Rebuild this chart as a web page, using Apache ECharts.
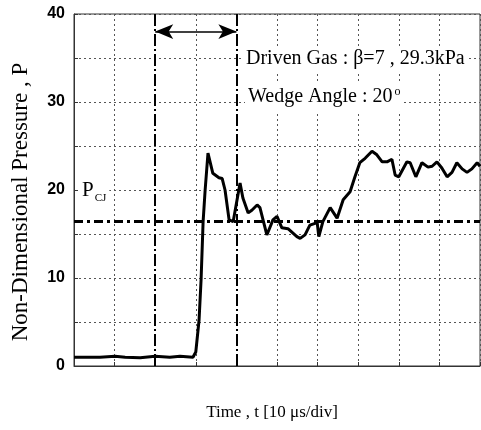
<!DOCTYPE html>
<html>
<head>
<meta charset="utf-8">
<script src="https://cdn.jsdelivr.net/npm/echarts@6/dist/echarts.min.js"></script>
<style>
  html, body { margin: 0; padding: 0; background: #fff; }
  #main { width: 481px; height: 430px; }
</style>
</head>
<body>
<div id="main"></div>
<script>
// time in divisions (10 us/div) and non-dimensional pressure
var timeDiv = [0, 0.64, 1.01, 1.26, 1.63, 2.0, 2.36, 2.61, 2.93, 3.0, 3.08, 3.13, 3.18, 3.23, 3.30,
  3.42, 3.57, 3.65, 3.72, 3.82, 3.92, 4.09, 4.16, 4.29, 4.38, 4.51, 4.58, 4.75, 4.83, 4.90,
  5.00, 5.12, 5.27, 5.49, 5.57, 5.69, 5.81, 5.99, 6.03, 6.13, 6.31, 6.48, 6.63, 6.80, 6.92,
  7.04, 7.17, 7.34, 7.46, 7.59, 7.71, 7.83, 7.91, 8.00, 8.20, 8.28, 8.42, 8.57, 8.72, 8.82,
  8.94, 9.06, 9.19, 9.31, 9.43, 9.56, 9.68, 9.80, 9.93, 10.0];
var pressure = [1.0, 1.0, 1.1, 1.0, 0.95, 1.1, 1.0, 1.1, 1.0, 1.6, 5.2, 9.8, 16.4, 20.0, 24.2,
  21.9, 21.4, 21.3, 20.0, 16.6, 16.4, 20.8, 19.1, 17.4, 17.7, 18.3, 18.0, 14.9, 15.8, 16.6,
  17.0, 15.7, 15.6, 14.7, 14.5, 14.9, 16.0, 16.3, 14.7, 16.4, 18.0, 16.8, 18.9, 19.8, 21.5,
  23.1, 23.6, 24.4, 24.0, 23.2, 23.2, 23.5, 21.7, 21.5, 23.2, 23.1, 21.5, 23.1, 22.6, 22.7,
  23.2, 22.5, 21.5, 22.0, 23.1, 22.4, 22.0, 22.4, 23.1, 22.7];
var yTicks = [0, 10, 20, 30, 40];
var pCJ = 16.4;
var windowStart = 2, windowEnd = 4, arrowLevel = 38;

var chart = echarts.init(document.getElementById('main'), null, { renderer: 'canvas' });

var serif = '"Liberation Serif", "DejaVu Serif", serif';
var pts = timeDiv.map(function (t, i) { return [t, pressure[i]]; });

var option = {
  backgroundColor: '#fff',
  animation: false,
  grid: {
    left: 74, right: 1, top: 14, bottom: 64,
    outerBoundsMode: 'none',
    show: true, borderColor: '#333', borderWidth: 1
  },
  xAxis: {
    type: 'value', min: 0, max: 10, interval: 1,
    name: 'Time , t [10 \u03bcs/div]',
    nameLocation: 'middle', nameGap: 38,
    nameTextStyle: { fontFamily: serif, fontSize: 17, color: '#000', padding: [0, 10, 0, 0] },
    axisLine: { show: true, lineStyle: { color: '#333', width: 1 } },
    axisTick: { show: true, inside: true, length: 4, lineStyle: { color: '#333' } },
    axisLabel: { show: false },
    splitLine: { show: true, lineStyle: { color: '#555', type: [2, 3], width: 1 } }
  },
  yAxis: {
    type: 'value', min: 0, max: 40, interval: 5,
    name: 'Non-Dimensional Pressure , P',
    nameLocation: 'middle', nameGap: 42,
    nameTextStyle: { fontFamily: serif, fontSize: 23, color: '#000', padding: [0, 24, 0, 0] },
    axisLine: { show: true, lineStyle: { color: '#333', width: 1 } },
    axisTick: { show: true, inside: true, length: 4, lineStyle: { color: '#333' } },
    axisLabel: {
      margin: 9,
      fontFamily: '"Liberation Sans", Arial, sans-serif', fontWeight: 'bold', fontSize: 16, color: '#000',
      formatter: function (v) { return yTicks.indexOf(v) >= 0 ? String(v) : ''; }
    },
    splitLine: { show: true, lineStyle: { color: '#555', type: [2, 3], width: 1 } }
  },
  graphic: [
    {
      type: 'text', left: 243, top: 46, z: 10,
      style: {
        text: 'Driven Gas : \u03b2=7 , 29.3kPa',
        font: '20px ' + serif, fill: '#000',
        backgroundColor: '#fff', padding: [3, 3]
      }
    },
    {
      type: 'text', left: 245, top: 83, z: 10,
      style: {
        text: '{t|Wedge Angle : 20}{s|o}',
        rich: {
          t: { font: '20px ' + serif, fill: '#000' },
          s: { font: '12px ' + serif, fill: '#000', verticalAlign: 'top', padding: [0, 0, 10, 2] }
        },
        backgroundColor: '#fff', padding: [3, 3]
      }
    },
    {
      type: 'text', left: 78, top: 176, z: 10,
      style: {
        text: '{p|P}{s|CJ}',
        rich: {
          p: { font: '21px ' + serif, fill: '#000' },
          s: { font: '11px ' + serif, fill: '#000', padding: [16, 0, 0, 1] }
        },
        backgroundColor: '#fff', padding: [1, 3, 1, 4]
      }
    }
  ],
  series: [
    {
      type: 'line',
      data: pts,
      symbol: 'none',
      lineStyle: { color: '#000', width: 3 },
      z: 5,
      markLine: {
        silent: true,
        symbol: 'none',
        label: { show: false },
        data: [
          { yAxis: pCJ, lineStyle: { color: '#000', width: 3, type: [9, 4, 3, 4] } },
          { xAxis: windowStart, lineStyle: { color: '#000', width: 2, type: [12, 3, 2, 3] } },
          { xAxis: windowEnd, lineStyle: { color: '#000', width: 2, type: [12, 3, 2, 3] } },
          [
            { coord: [windowStart, arrowLevel], symbol: 'arrow', symbolSize: [11, 18] },
            { coord: [windowEnd, arrowLevel], symbol: 'arrow', symbolSize: [11, 18],
              lineStyle: { color: '#000', width: 1.5, type: 'solid' } }
          ]
        ]
      }
    }
  ]
};

chart.setOption(option);
</script>
</body>
</html>
